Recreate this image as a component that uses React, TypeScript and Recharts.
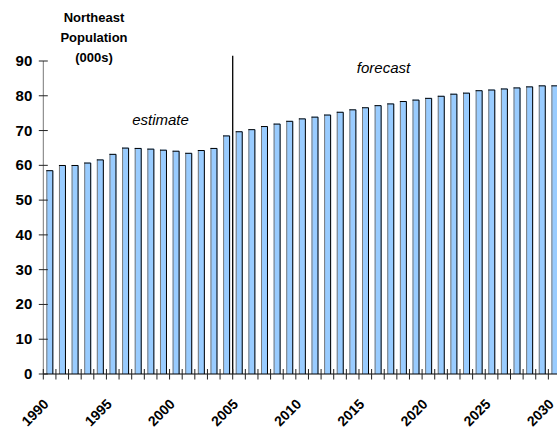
import React from 'react';
import { BarChart, Bar, XAxis, YAxis, ReferenceLine, Customized } from 'recharts';

// Annual population, thousands
const years = [
  '1990', '1991', '1992', '1993', '1994', '1995', '1996', '1997', '1998', '1999',
  '2000', '2001', '2002', '2003', '2004', '2005', '2006', '2007', '2008', '2009',
  '2010', '2011', '2012', '2013', '2014', '2015', '2016', '2017', '2018', '2019',
  '2020', '2021', '2022', '2023', '2024', '2025', '2026', '2027', '2028', '2029',
  '2030',
];
const population = [
  58.6, 60.1, 60.1, 60.8, 61.7, 63.3, 65.1, 65.0, 64.8, 64.5,
  64.2, 63.6, 64.4, 65.0, 68.6, 69.8, 70.4, 71.3, 72.0, 72.8,
  73.5, 74.0, 74.6, 75.4, 76.1, 76.7, 77.3, 77.8, 78.5, 78.9,
  79.4, 80.0, 80.6, 80.9, 81.6, 81.8, 82.1, 82.4, 82.7, 83.0,
  83.0,
];
const yTicks = [0, 10, 20, 30, 40, 50, 60, 70, 80, 90];
const labeledYears = ['1990', '1995', '2000', '2005', '2010', '2015', '2020', '2025', '2030'];
const titleLines = ['Northeast', 'Population', '(000s)'];
const estimateText = 'estimate';
const forecastText = 'forecast';
const forecastStart = '2005';

const data = years.map((year, i) => ({ year, population: population[i] }));

const FONT = '"Liberation Sans", Arial, Helvetica, sans-serif';
const CHART_W = 561;
const CHART_H = 429;
const Y_AXIS_W = 43.3;
const BAND = (CHART_W - Y_AXIS_W) / years.length;

const BarShape = (props: any) => {
  const { x, y, width, height } = props;
  if (height == null || height <= 0) return null;
  return (
    <g>
      <rect x={x} y={y} width={width} height={height} fill="#99CCFF" />
      <line x1={x + 0.5} y1={y} x2={x + 0.5} y2={y + height} stroke="#7a7a7a" strokeWidth={1} />
      <polyline
        points={`${x},${y + 0.5} ${x + width - 0.5},${y + 0.5} ${x + width - 0.5},${y + height}`}
        fill="none"
        stroke="#000"
        strokeWidth={1}
      />
    </g>
  );
};

const XTick = (props: any) => {
  const { x, y, payload } = props;
  const edge = x - BAND / 2;
  const show = labeledYears.includes(payload.value);
  const ty = y + 31;
  return (
    <g>
      <line x1={edge} y1={y - 5} x2={edge} y2={y + 5.5} stroke="#222" strokeWidth={1} />
      {show && (
        <text
          x={x}
          y={ty}
          transform={`rotate(-45, ${x}, ${ty})`}
          textAnchor="end"
          fontFamily={FONT}
          fontWeight="bold"
          fontSize={14}
          fill="#000"
        >
          {payload.value}
        </text>
      )}
    </g>
  );
};

const YTick = (props: any) => {
  const { x, y, payload } = props;
  return (
    <g>
      <line x1={x - 4.5} y1={y} x2={x + 4.5} y2={y} stroke="#222" strokeWidth={1} />
      <text
        x={x - 11}
        y={y + 5}
        textAnchor="end"
        fontFamily={FONT}
        fontWeight="bold"
        fontSize={15}
        fill="#000"
      >
        {payload.value}
      </text>
    </g>
  );
};

const Annotations = () => (
  <g fontFamily={FONT} fill="#000">
    {titleLines.map((line, i) => (
      <text key={line} x={94} y={22 + i * 20} textAnchor="middle" fontWeight="bold" fontSize={13}>
        {line}
      </text>
    ))}
    <text x={160.5} y={125} textAnchor="middle" fontStyle="italic" fontSize={15}>
      {estimateText}
    </text>
    <text x={383.5} y={73} textAnchor="middle" fontStyle="italic" fontSize={15}>
      {forecastText}
    </text>
  </g>
);

export default function App() {
  return (
    <div
      style={{
        position: 'absolute',
        left: 0,
        top: 0,
        width: 557,
        height: 429,
        overflow: 'hidden',
        background: '#fff',
      }}
    >
      <BarChart
        width={CHART_W}
        height={CHART_H}
        data={data}
        margin={{ top: 61, right: 0, bottom: 0, left: 0 }}
        barCategoryGap="24%"
      >
        <XAxis
          dataKey="year"
          interval={0}
          height={55}
          tickSize={0}
          tickMargin={0}
          tickLine={false}
          axisLine={{ stroke: '#000', strokeWidth: 1 }}
          tick={<XTick />}
        />
        <YAxis
          width={Y_AXIS_W}
          domain={[0, 90]}
          ticks={yTicks}
          interval={0}
          tickSize={0}
          tickMargin={0}
          tickLine={false}
          axisLine={{ stroke: '#777', strokeWidth: 1 }}
          tick={<YTick />}
        />
        <Bar dataKey="population" shape={<BarShape />} isAnimationActive={false} />
        <ReferenceLine
          segment={[
            { x: forecastStart, y: 0 },
            { x: forecastStart, y: 91.5 },
          ]}
          position="start"
          ifOverflow="visible"
          stroke="#000"
          strokeWidth={1.3}
        />
        <Customized component={Annotations} />
      </BarChart>
    </div>
  );
}
